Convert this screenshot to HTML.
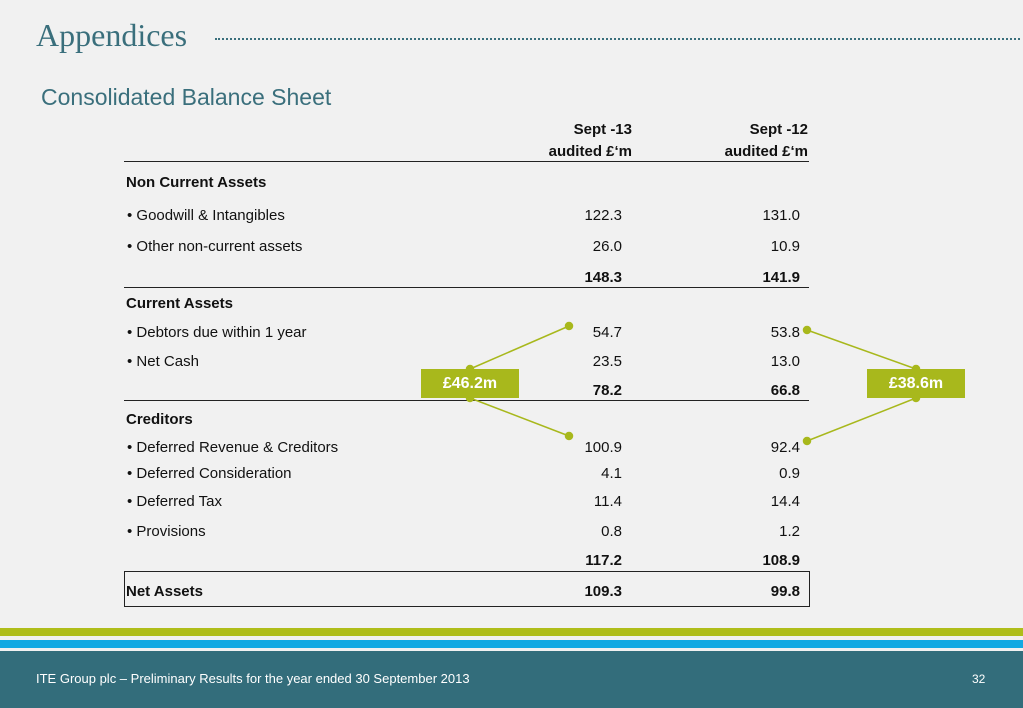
<!DOCTYPE html>
<html><head><meta charset="utf-8"><style>
body{margin:0;width:1023px;height:708px;background:#f1f1f1;position:relative;overflow:hidden;font-family:"Liberation Sans",sans-serif}
.a{position:absolute;white-space:nowrap}
.t{font-size:15px;color:#111}
.r{text-align:right;width:80px}
.b{font-weight:bold}
.ln{position:absolute;left:124px;width:685px;height:1px;background:#222}
</style></head><body>
<div class="a" style="left:36px;top:17px;font-family:'Liberation Serif',serif;font-size:32px;color:#3a6f7c">Appendices</div>
<div class="a" style="left:215px;top:38px;width:805px;border-top:2px dotted #3a6f7c"></div>
<div class="a" style="left:41px;top:84px;font-size:23px;color:#3a6f7c">Consolidated Balance Sheet</div>

<div class="a t b" style="left:500px;top:119px;width:132px;text-align:right;line-height:22px">Sept -13<br>audited £‘m</div>
<div class="a t b" style="left:676px;top:119px;width:132px;text-align:right;line-height:22px">Sept -12<br>audited £‘m</div>

<div class="ln" style="top:161px"></div>
<div class="ln" style="top:287px"></div>
<div class="ln" style="top:400px"></div>
<div class="a" style="left:124px;top:571px;width:684px;height:34px;border:1px solid #222"></div>

<div id="rows"></div>

<svg class="a" style="left:0;top:0" width="1023" height="708">
<g stroke="#a8b81c" stroke-width="1.5" fill="#a8b81c">
<line x1="470" y1="369" x2="569" y2="326"/><line x1="470" y1="398" x2="569" y2="436"/>
<line x1="916" y1="369" x2="807" y2="330"/><line x1="916" y1="398" x2="807" y2="441"/>
<circle cx="470" cy="369" r="3.5"/><circle cx="470" cy="398" r="3.5"/><circle cx="569" cy="326" r="3.5"/><circle cx="569" cy="436" r="3.5"/>
<circle cx="916" cy="369" r="3.5"/><circle cx="916" cy="398" r="3.5"/><circle cx="807" cy="330" r="3.5"/><circle cx="807" cy="441" r="3.5"/>
</g></svg>
<div class="a b" style="left:421px;top:369px;width:98px;height:29px;line-height:29px;background:#a8b81c;color:#fff;font-size:16px;text-align:center">£46.2m</div>
<div class="a b" style="left:867px;top:369px;width:98px;height:29px;line-height:29px;background:#a8b81c;color:#fff;font-size:16px;text-align:center">£38.6m</div>

<div class="a" style="left:0;top:628px;width:1023px;height:8px;background:#afbd1a"></div>
<div class="a" style="left:0;top:640px;width:1023px;height:8px;background:#12a9e2"></div>
<div class="a" style="left:0;top:651px;width:1023px;height:57px;background:#336d7b"></div>
<div class="a" style="left:36px;top:671px;font-size:13px;color:#fff">ITE Group plc – Preliminary Results for the year ended 30 September 2013</div>
<div class="a" style="left:972px;top:672px;font-size:12px;color:#fff">32</div>

<script>
const labels=["Non Current Assets","Goodwill & Intangibles","Other non-current assets","","Current Assets","Debtors due within 1 year","Net Cash","","Creditors","Deferred Revenue & Creditors","Deferred Consideration","Deferred Tax","Provisions","","Net Assets"];
const sept13=["","122.3","26.0","148.3","","54.7","23.5","78.2","","100.9","4.1","11.4","0.8","117.2","109.3"];
const sept12=["","131.0","10.9","141.9","","53.8","13.0","66.8","","92.4","0.9","14.4","1.2","108.9","99.8"];
const kinds=["h","i","i","t","h","i","i","t","h","i","i","i","i","t","n"];
const ys=[181,214,245,276,302,331,360,389,418,446,472,500,530,559,590];
const c=document.getElementById('rows');
labels.forEach((l,i)=>{
  const k=kinds[i],bold=(k!=="i");
  if(l){const d=document.createElement('div');d.className='a t'+(bold?' b':'');
    d.style.left=(k==="i"?127:126)+'px';d.style.top=(ys[i]-7)+'px';
    d.textContent=(k==="i"?'•  ':'')+l;
    
    
    c.appendChild(d);}
  [[sept13[i],542],[sept12[i],720]].forEach(([v,x])=>{ if(!v)return;
    const e=document.createElement('div');e.className='a t r'+(bold?' b':'');
    e.style.left=x+'px';e.style.top=(ys[i]-7)+'px';e.textContent=v;
    
    
    c.appendChild(e);});
});
</script>
</body></html>
